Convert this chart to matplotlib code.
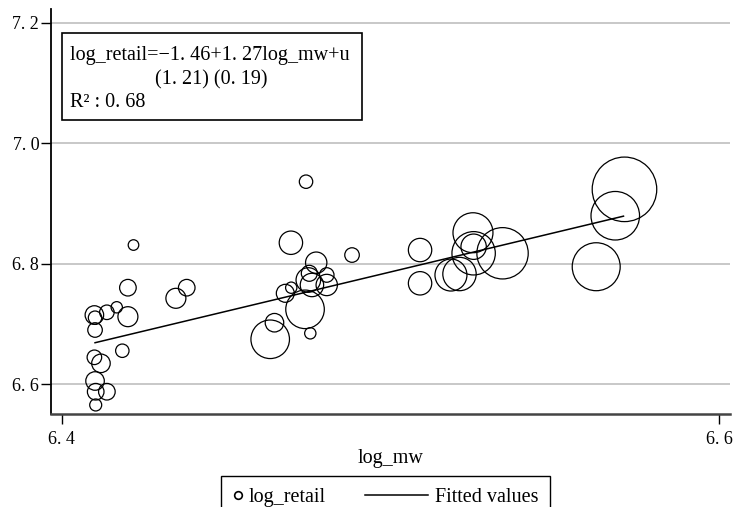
import numpy as np
import matplotlib.pyplot as plt
from matplotlib.patches import Rectangle
from matplotlib.lines import Line2D
from matplotlib.legend_handler import HandlerLine2D

plt.rcParams['font.family'] = ['Liberation Serif', 'DejaVu Serif']

# log_mw, log_retail and weight (marker area)
log_mw = [6.4218, 6.4201, 6.4380, 6.4347, 6.4099, 6.4101, 6.4137, 6.4167, 6.4201,
          6.4101, 6.4184, 6.4099, 6.4119, 6.4101, 6.4103, 6.4137, 6.4103,
          6.4743, 6.4697, 6.4883, 6.4774, 6.4753, 6.4806, 6.4750, 6.4761, 6.4806,
          6.4680, 6.4698, 6.4740, 6.4647, 6.4634, 6.4756,
          6.5090, 6.5090, 6.5251, 6.5253, 6.5253, 6.5184, 6.5210, 6.5341,
          6.5626, 6.5684, 6.5712]
log_retail = [6.8311, 6.7603, 6.7603, 6.7427, 6.7150, 6.7105, 6.7195, 6.7278, 6.7122,
              6.6901, 6.6557, 6.6448, 6.6348, 6.6055, 6.5877, 6.5877, 6.5657,
              6.9362, 6.8349, 6.8145, 6.8018, 6.7842, 6.7814, 6.7731, 6.7648, 6.7648,
              6.7510, 6.7603, 6.7244, 6.7022, 6.6747, 6.6846,
              6.8228, 6.7676, 6.8515, 6.8283, 6.8174, 6.7813, 6.7830, 6.8174,
              6.7951, 6.8797, 6.9235]
weight = [28, 69, 69, 100, 86, 45, 53, 32, 100,
          53, 45, 53, 86, 86, 69, 69, 36,
          45, 137, 53, 114, 64, 53, 151, 137, 114,
          81, 32, 372, 86, 372, 32,
          137, 137, 400, 161, 471, 256, 279, 660,
          576, 590, 1043]

# fitted line end points
fit_x = [6.4101, 6.5709]
fit_y = [6.669, 6.879]

xticks = [6.4, 6.6]
xtick_labels = ['6. 4', '6. 6']
yticks = [6.6, 6.8, 7.0, 7.2]
ytick_labels = ['6. 6', '6. 8', '7. 0', '7. 2']

fig = plt.figure(figsize=(7.36, 5.07), dpi=100)
ax = fig.add_axes([0.0693, 0.1834, 0.9225, 0.7988])

sizes = [2.07 * w for w in weight]
ax.scatter(log_mw, log_retail, s=sizes, facecolors='none', edgecolors='black',
           linewidths=0.9, zorder=3)
ax.plot(fit_x, fit_y, color='black', lw=1.1, zorder=4)

ax.set_xlim(6.3967, 6.6033)
ax.set_ylim(6.5507, 7.2227)
ax.set_xticks(xticks, xtick_labels)
ax.set_yticks(yticks, ytick_labels)
ax.tick_params(axis='both', direction='out', length=7, width=1, labelsize=13, color='black')
ax.tick_params(axis='y', pad=1.5)
ax.tick_params(axis='x', pad=5)
ax.grid(axis='y', color='#c4c4c4', lw=1.3)
ax.set_axisbelow(True)
for s in ['top', 'right']:
    ax.spines[s].set_visible(False)
ax.spines['left'].set_linewidth(1.3)
ax.spines['bottom'].set_linewidth(1.8)
ax.spines['bottom'].set_color('#444444')

ax.set_xlabel('log_mw', fontsize=14.5)
ax.xaxis.label.set_va('center')
ax.xaxis.set_label_coords(0.5, -0.111)

# regression box
ax.add_patch(Rectangle((0.0158, 0.726), 0.4422, 0.2155, transform=ax.transAxes,
                       fill=True, facecolor='white', edgecolor='black', lw=1.2, zorder=5))
ax.text(0.028, 0.886, 'log_retail=\u22121. 46+1. 27log_mw+u', transform=ax.transAxes,
        fontsize=14.5, va='center', ha='left', zorder=6)
ax.text(0.2364, 0.826, '(1. 21) (0. 19)', transform=ax.transAxes,
        fontsize=14.5, va='center', ha='center', zorder=6)
ax.text(0.028, 0.770, 'R\u00b2 : 0. 68', transform=ax.transAxes,
        fontsize=14.5, va='center', ha='left', zorder=6)

h_pts = Line2D([], [], marker='o', ls='none', markerfacecolor='none',
               markeredgecolor='black', markeredgewidth=1.2, markersize=5.5)
h_fit = Line2D([], [], color='black', lw=1.1)
leg = fig.legend([h_pts, h_fit], ['log_retail', 'Fitted values'], loc='upper left',
                 bbox_to_anchor=(221 / 736, 1 - 476 / 507), ncol=2, fontsize=14.5,
                 frameon=True, fancybox=False, edgecolor='black', framealpha=1,
                 handlelength=0.44, handletextpad=0.35, columnspacing=4.6,
                 borderpad=0.6, borderaxespad=0,
                 handler_map={h_fit: HandlerLine2D(xpad=-2.66)})
leg.get_frame().set_linewidth(1.0)

plt.savefig('out.png', dpi=100)
